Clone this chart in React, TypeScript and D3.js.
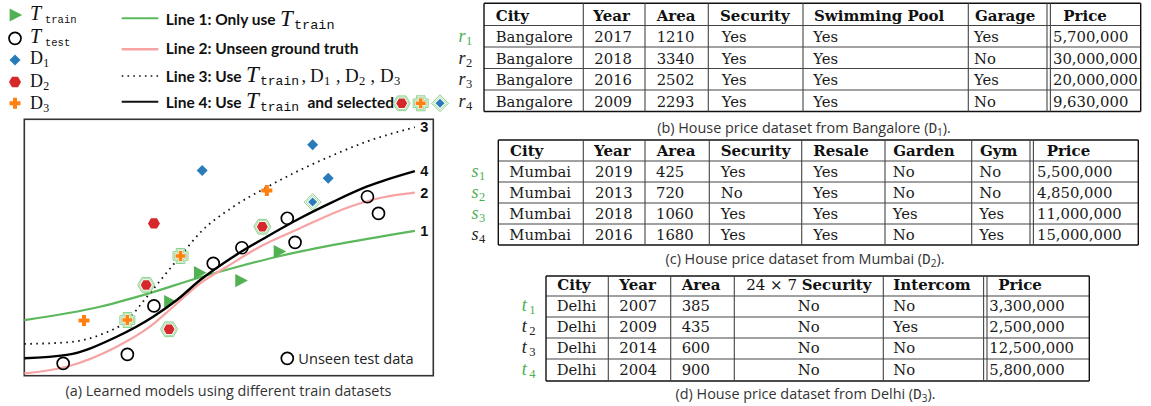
import * as d3 from 'd3';

const W = 1151;
const H = 406;

const GREEN = '#5cb85c';
const GREEN_MK = '#52b152';
const PINK = '#f7a3a3';
const BLUE = '#2a7bb9';
const RED = '#d6282b';
const ORANGE = '#ff800e';
const SEL = '#7fcb7f';
const LABEL_GREEN = '#4caf50';

// panel (a) values, plot units 0..100 on both axes
const trainPts = [[42.8, 40.2], [35.5, 28.9], [52.9, 37.1], [62.3, 48.4]];
const testPts = [
  [9.5, 4.8], [25.2, 8.3], [31.7, 27.2], [46.2, 43.8], [53.2, 49.9],
  [64.3, 61.4], [66.2, 52.0], [83.9, 69.8], [86.6, 63.3],
];
const d1Pts = [[43.5, 80.0], [70.5, 90.1], [74.3, 77.0], [70.5, 67.7]];
const d1Sel = [false, false, false, true];
const d2Pts = [[31.7, 59.4], [29.8, 35.4], [58.2, 58.1], [35.4, 18.1]];
const d2Sel = [false, true, true, true];
const d3Pts = [[14.6, 21.5], [59.3, 72.2], [38.2, 46.7], [25.2, 21.7]];
const d3Sel = [false, false, true, true];

const line1 = [[0, 21.7], [18.5, 26.9], [30.7, 32.2], [43, 38.4], [52, 42.4], [62.3, 46.6], [75.6, 51.0], [95.5, 56.5]];
const line2 = [[0, 0.9], [10.4, 3.5], [22.6, 11.3], [30.7, 19.1], [36.4, 26.9], [43, 36.0], [49.5, 42.5], [57.6, 50.3], [67.4, 57.5], [79.6, 65.9], [87.8, 69.6], [95.5, 71.4]];
const line3 = [[0, 12.4], [10.4, 13.0], [18.5, 15.9], [25.2, 21.7], [29.9, 30.6], [34.0, 38.6], [38.2, 46.7], [43, 55.8], [51.1, 65.9], [59.3, 73.5], [67.4, 80.2], [75.6, 86.1], [83.7, 91.3], [95.5, 96.9]];
const line4 = [[0, 6.8], [10.4, 8.1], [22.6, 15.2], [31.5, 23.0], [37.3, 29.5], [43, 37.3], [51.1, 46.4], [59.3, 54.2], [67.4, 61.4], [75.6, 67.9], [83.7, 73.7], [95.5, 79.8]];
const curveLabels = ['3', '4', '2', '1'];
const curveLabelEnds = [96.9, 79.8, 71.4, 56.5];

// tables
const headB = ['City', 'Year', 'Area', 'Security', 'Swimming Pool', 'Garage', 'Price'];
const rowsB = [
  ['Bangalore', '2017', '1210', 'Yes', 'Yes', 'Yes', '5,700,000'],
  ['Bangalore', '2018', '3340', 'Yes', 'Yes', 'No', '30,000,000'],
  ['Bangalore', '2016', '2502', 'Yes', 'Yes', 'Yes', '20,000,000'],
  ['Bangalore', '2009', '2293', 'Yes', 'Yes', 'No', '9,630,000'],
];
const labelsB = ['r', 'r', 'r', 'r'];
const greenB = [true, false, false, false];

const headC = ['City', 'Year', 'Area', 'Security', 'Resale', 'Garden', 'Gym', 'Price'];
const rowsC = [
  ['Mumbai', '2019', '425', 'Yes', 'Yes', 'No', 'No', '5,500,000'],
  ['Mumbai', '2013', '720', 'No', 'Yes', 'No', 'No', '4,850,000'],
  ['Mumbai', '2018', '1060', 'Yes', 'Yes', 'Yes', 'Yes', '11,000,000'],
  ['Mumbai', '2016', '1680', 'Yes', 'Yes', 'No', 'Yes', '15,000,000'],
];
const labelsC = ['s', 's', 's', 's'];
const greenC = [true, true, true, false];

const headD = ['City', 'Year', 'Area', '24 × 7 |Security', 'Intercom', 'Price'];
const rowsD = [
  ['Delhi', '2007', '385', 'No', 'No', '3,300,000'],
  ['Delhi', '2009', '435', 'No', 'Yes', '2,500,000'],
  ['Delhi', '2014', '600', 'No', 'No', '12,500,000'],
  ['Delhi', '2004', '900', 'No', 'No', '5,800,000'],
];
const labelsD = ['t', 't', 't', 't'];
const greenD = [true, false, false, true];

const SERIF = '"DejaVu Serif", serif';
const MSERIF = '"Liberation Serif", serif';
const MONO = '"Liberation Mono", monospace';
const SANS = 'Lato, "Open Sans", sans-serif';
const CAP = '"Open Sans", Lato, sans-serif';

function triPath(s: number) {
  return `M${-s * 0.45},${-s * 0.55}L${s * 0.6},0L${-s * 0.45},${s * 0.55}Z`;
}
function diamondPath(s: number) {
  const h = s / 2;
  return `M0,${-h}L${h},0L0,${h}L${-h},0Z`;
}
function hexPath(s: number) {
  const r = s / 2;
  return d3.range(6).map((i) => {
    const a = (Math.PI / 3) * i;
    return `${i ? 'L' : 'M'}${r * Math.cos(a)},${r * Math.sin(a)}`;
  }).join('') + 'Z';
}
function plusPath(s: number, t: number) {
  const a = s / 2;
  return `M${-t},${-a}H${t}V${-t}H${a}V${t}H${t}V${a}H${-t}V${t}H${-a}V${-t}H${-t}Z`;
}

type Kind = 'tri' | 'circle' | 'diamond' | 'hex' | 'plus';

function Marker({ kind, x, y, sel = false }: { kind: Kind; x: number; y: number; sel?: boolean }) {
  const outer = (k: number) => {
    if (kind === 'hex') return hexPath(12 + k);
    if (kind === 'diamond') return diamondPath(10 + k * 1.4);
    return plusPath(10 + k, 1.8 + k / 2);
  };
  return (
    <g transform={`translate(${x},${y})`}>
      {sel && (
        <>
          <path d={outer(5)} fill="#fff" stroke={SEL} strokeWidth={0.9} />
          <path d={outer(2.2)} fill="none" stroke={SEL} strokeWidth={0.7} />
        </>
      )}
      {kind === 'tri' && <path d={triPath(12)} fill={GREEN_MK} />}
      {kind === 'circle' && <circle r={6} fill="none" stroke="#000" strokeWidth={1.7} />}
      {kind === 'diamond' && <path d={diamondPath(sel ? 9 : 11)} fill={BLUE} />}
      {kind === 'hex' && <path d={hexPath(sel ? 11 : 12)} fill={RED} />}
      {kind === 'plus' && <path d={plusPath(sel ? 10 : 11, sel ? 1.8 : 2)} fill={ORANGE} />}
    </g>
  );
}

function TSym({ x, y, size, sub, subSize, dx }: { x: number; y: number; size: number; sub: string; subSize: number; dx: number }) {
  return (
    <g>
      <text x={x} y={y} fontFamily={MSERIF} fontStyle="italic" fontSize={size} fill="#111">T</text>
      <text x={x + dx} y={y + size * 0.15} fontFamily={MONO} fontSize={subSize} fill="#111">{sub}</text>
    </g>
  );
}

function DSym({ x, y, size, n }: { x: number; y: number; size: number; n: number }) {
  return (
    <g>
      <text x={x} y={y} fontFamily={MSERIF} fontSize={size} fill="#111">D</text>
      <text x={x + size * 0.74} y={y + size * 0.18} fontFamily={MSERIF} fontSize={size * 0.66} fill="#111">{n}</text>
    </g>
  );
}

interface TableProps {
  cols: number[];
  dbl: number;
  rows: number[];
  head: string[];
  body: string[][];
  textX: number[];
  headX: number[];
  center?: number[];
  labels: string[];
  green: boolean[];
  labelX: number;
  baseOff: number;
}

function Table({ cols, dbl, rows, head, body, textX, headX, center = [], labels, green, labelX, baseOff }: TableProps) {
  const x0 = cols[0];
  const x1 = cols[cols.length - 1];
  const y0 = rows[0];
  const y1 = rows[rows.length - 1];
  const outerLine = (i: number, n: number) => i === 0 || i === n - 1;
  return (
    <g>
      {rows.map((y, i) => (
        <line key={`h${i}`} x1={x0} x2={x1} y1={y} y2={y} stroke={outerLine(i, rows.length) ? '#111' : '#444'} strokeWidth={outerLine(i, rows.length) ? 1.4 : 1.1} />
      ))}
      {cols.map((x, i) =>
        i === dbl ? (
          <g key={`v${i}`}>
            <line x1={x - 1.7} x2={x - 1.7} y1={y0} y2={y1} stroke="#444" strokeWidth={1.1} />
            <line x1={x + 1.7} x2={x + 1.7} y1={y0} y2={y1} stroke="#444" strokeWidth={1.1} />
          </g>
        ) : (
          <line key={`v${i}`} x1={x} x2={x} y1={y0} y2={y1} stroke={outerLine(i, cols.length) ? '#111' : '#444'} strokeWidth={outerLine(i, cols.length) ? 1.4 : 1.1} />
        )
      )}
      {head.map((h, j) => {
        const parts = h.split('|');
        const mid = (cols[j] + cols[j + 1]) / 2;
        const isC = center.includes(j);
        return (
          <text key={`hd${j}`} x={isC ? mid : headX[j]} y={rows[1] - baseOff} textAnchor={isC ? 'middle' : 'start'} fontFamily={SERIF} fontSize={15} fill="#111">
            {parts.length > 1 ? (
              <>
                <tspan>{parts[0]}</tspan>
                <tspan fontWeight="bold">{parts[1]}</tspan>
              </>
            ) : (
              <tspan fontWeight="bold">{h}</tspan>
            )}
          </text>
        );
      })}
      {body.map((r, i) => (
        <g key={`r${i}`}>
          {r.map((v, j) => {
            const isC = center.includes(j);
            return (
              <text key={j} x={isC ? (cols[j] + cols[j + 1]) / 2 : textX[j]} y={rows[i + 2] - baseOff} textAnchor={isC ? 'middle' : 'start'} fontFamily={SERIF} fontSize={14.8} fill="#1a1a1a">{v}</text>
            );
          })}
          <text x={labelX} y={rows[i + 2] - baseOff} fontFamily={MSERIF} fontStyle="italic" fontSize={18} fill={green[i] ? LABEL_GREEN : '#222'}>
            {labels[i]}
          </text>
          <text x={labelX + 7.5} y={rows[i + 2] - baseOff + 3} fontFamily={MSERIF} fontSize={12.5} fill={green[i] ? LABEL_GREEN : '#222'}>
            {i + 1}
          </text>
        </g>
      ))}
    </g>
  );
}

function Caption({ x, y, pre, n }: { x: number; y: number; pre: string; n?: number }) {
  return (
    <text x={x} y={y} textAnchor="middle" fontFamily={CAP} fontSize={14.4} fill="#333">
      {pre}
      {n != null && (
        <>
          <tspan fontFamily={MONO}>D</tspan>
          <tspan dy={3} fontSize={10}>{n}</tspan>
          <tspan dy={-3}>).</tspan>
        </>
      )}
    </text>
  );
}

export default function App() {
  const xs = d3.scaleLinear().domain([0, 100]).range([24.3, 433.3]);
  const ys = d3.scaleLinear().domain([0, 100]).range([375.7, 119.3]);
  const line = d3.line<number[]>().x((d) => xs(d[0])).y((d) => ys(d[1])).curve(d3.curveMonotoneX);

  return (
    <svg width={W} height={H} style={{ position: 'absolute', left: 0, top: 0, background: '#fff' }}>
      {/* legend, left column */}
      <Marker kind="tri" x={15} y={15} />
      <TSym x={30} y={20} size={20} sub="train" subSize={10.5} dx={15} />
      <Marker kind="circle" x={15} y={38.3} />
      <TSym x={30} y={43} size={20} sub="test" subSize={10.5} dx={15} />
      <Marker kind="diamond" x={15} y={60} />
      <DSym x={30} y={64} size={18} n={1} />
      <Marker kind="hex" x={15} y={82} />
      <DSym x={30} y={86.5} size={18} n={2} />
      <Marker kind="plus" x={15} y={103.3} />
      <DSym x={30} y={108.5} size={18} n={3} />

      {/* legend, lines */}
      <line x1={121.7} x2={158.3} y1={18.3} y2={18.3} stroke={GREEN} strokeWidth={2} />
      <line x1={121.7} x2={158.3} y1={49.3} y2={49.3} stroke={PINK} strokeWidth={2.5} />
      <line x1={121.7} x2={158.3} y1={76} y2={76} stroke="#111" strokeWidth={1.6} strokeDasharray="1.6 4.2" />
      <line x1={121.7} x2={158.3} y1={101.7} y2={101.7} stroke="#111" strokeWidth={2} />
      <g fontFamily={SANS} fontWeight="bold" fontSize={15.5} fill="#111">
        <text x={165.7} y={25}>Line 1: Only use</text>
        <text x={165.7} y={54}>Line 2: Unseen ground truth</text>
        <text x={165.7} y={81.7}>Line 3: Use</text>
        <text x={165.7} y={107.7}>Line 4: Use</text>
        <text x={307.5} y={107.7}>and selected</text>
      </g>
      <TSym x={280} y={26} size={23} sub="train" subSize={13.5} dx={14} />
      <TSym x={246} y={82} size={23} sub="train" subSize={13} dx={14} />
      <TSym x={246} y={108} size={23} sub="train" subSize={13} dx={14} />
      {[1, 2, 3].map((n, i) => (
        <g key={n}>
          <text x={301.5 + i * 34.5} y={82} fontFamily={MSERIF} fontSize={18} fill="#111">,</text>
          <DSym x={310 + i * 35} y={82} size={19} n={n} />
        </g>
      ))}
      <Marker kind="hex" x={401.7} y={103.3} sel />
      <Marker kind="plus" x={420.7} y={103.3} sel />
      <Marker kind="diamond" x={440} y={103.3} sel />

      {/* panel (a) */}
      <rect x={24.3} y={119.3} width={409} height={256.4} fill="none" stroke="#333" strokeWidth={1.6} />
      <path d={line(line1) ?? ''} fill="none" stroke={GREEN} strokeWidth={2.2} />
      <path d={line(line2) ?? ''} fill="none" stroke={PINK} strokeWidth={2.2} />
      <path d={line(line3) ?? ''} fill="none" stroke="#111" strokeWidth={1.8} strokeDasharray="1.6 4.4" />
      {d1Pts.map((p, i) => <Marker key={`d1${i}`} kind="diamond" x={xs(p[0])} y={ys(p[1])} sel={d1Sel[i]} />)}
      {d2Pts.map((p, i) => <Marker key={`d2${i}`} kind="hex" x={xs(p[0])} y={ys(p[1])} sel={d2Sel[i]} />)}
      {d3Pts.map((p, i) => <Marker key={`d3${i}`} kind="plus" x={xs(p[0])} y={ys(p[1])} sel={d3Sel[i]} />)}
      {trainPts.map((p, i) => <Marker key={`tr${i}`} kind="tri" x={xs(p[0])} y={ys(p[1])} />)}
      <path d={line(line4) ?? ''} fill="none" stroke="#000" strokeWidth={2.4} />
      {testPts.map((p, i) => <Marker key={`te${i}`} kind="circle" x={xs(p[0])} y={ys(p[1])} />)}
      {curveLabels.map((l, i) => (
        <text key={l} x={xs(100) - 13} y={ys(curveLabelEnds[i]) + 5} fontFamily='"Liberation Sans", sans-serif' fontWeight="bold" fontSize={14.5} fill="#111">{l}</text>
      ))}
      <Marker kind="circle" x={287.3} y={358.3} />
      <text x={298.3} y={363.5} fontFamily={CAP} fontSize={14.6} fill="#222">Unseen test data</text>
      <Caption x={228.5} y={396} pre="(a) Learned models using different train datasets" />

      {/* tables */}
      <Table
        cols={[484, 583.3, 645, 708.3, 803, 968.3, 1048.7, 1140.7]}
        dbl={6}
        rows={[3.3, 25.5, 47, 68.5, 90, 111.5]}
        head={headB}
        body={rowsB}
        headX={[495.7, 593.3, 656.7, 720, 814, 975, 1063.3]}
        textX={[495.7, 594.3, 656.7, 721.7, 813.3, 974, 1053]}
        labels={labelsB}
        green={greenB}
        labelX={458.5}
        baseOff={5}
      />
      <Caption x={804} y={133} pre="(b) House price dataset from Bangalore (" n={1} />
      <Table
        cols={[498.3, 583.3, 645, 709.3, 801.7, 885, 971.7, 1031.7, 1138.3]}
        dbl={7}
        rows={[140, 161, 182, 203, 224, 245]}
        head={headC}
        body={rowsC}
        headX={[510, 594, 656.7, 720.7, 813.3, 893.3, 980, 1046.7]}
        textX={[509.3, 595, 656, 720.7, 813.3, 892.7, 979.3, 1037]}
        labels={labelsC}
        green={greenC}
        labelX={471.5}
        baseOff={5.5}
      />
      <Caption x={805} y={264} pre="(c) House price dataset from Mumbai (" n={2} />
      <Table
        cols={[546, 608.3, 670.7, 734.3, 883.3, 985.3, 1089.3]}
        dbl={5}
        rows={[276, 296, 317, 338, 359, 381]}
        head={headD}
        body={rowsD}
        headX={[557.3, 619.3, 681.7, 745.7, 893.3, 998.3]}
        textX={[556.7, 619.3, 681.7, 808.8, 893.3, 989.3]}
        center={[3]}
        labels={labelsD}
        green={greenD}
        labelX={521.7}
        baseOff={6}
      />
      <Caption x={805.5} y={399} pre="(d) House price dataset from Delhi (" n={3} />
    </svg>
  );
}
